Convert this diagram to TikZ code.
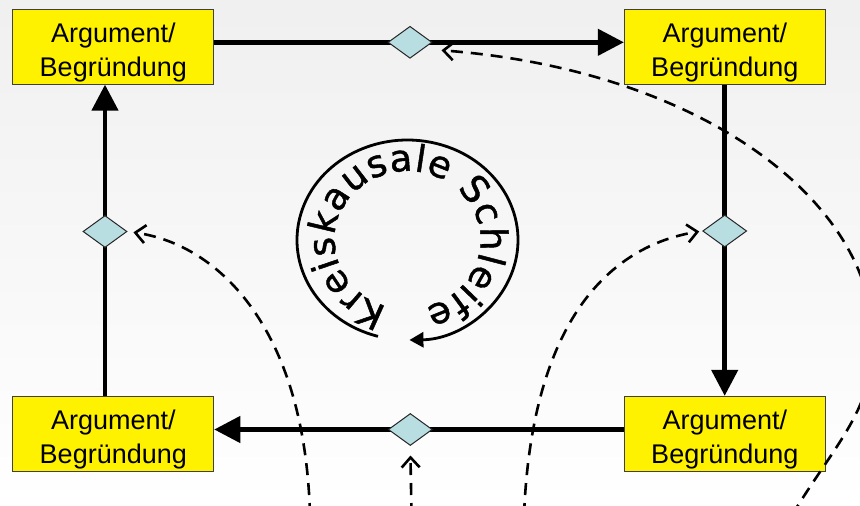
\documentclass[tikz,border=0pt]{standalone}
\usepackage{fontspec}
\setmainfont{Liberation Sans}
\newfontfamily\loopfont{DejaVu Sans}[BoldFont={DejaVu Sans}, BoldFeatures={FakeBold=1.2}]
\usetikzlibrary{arrows.meta,shapes.geometric,decorations.text}

\definecolor{junctioncyan}{RGB}{185,222,226}
\definecolor{boxedge}{RGB}{64,64,64}

\pgfdeclarelayer{backdrop}
\pgfdeclarelayer{wires}
\pgfsetlayers{backdrop,wires,main}

% taller first line pushes the two text lines a little lower in the box
\newcommand{\boxtext}{\rule{0pt}{31pt}Argument/\\Begründung}

\begin{document}
\begin{tikzpicture}[x=1pt,y=-1pt,
  argbox/.style={draw=boxedge, line width=0.9pt, fill=yellow,
    minimum width=201pt, minimum height=75pt, inner sep=0pt,
    align=center, font=\fontsize{27}{34}\selectfont},
  junction/.style={diamond, draw=black!85, line width=1pt, fill=junctioncyan,
    minimum width=44pt, minimum height=32pt, inner sep=0pt},
  flow/.style={line width=4.5pt, -{Triangle[length=26pt,width=26pt]}},
  flowplain/.style={line width=4.5pt},
  influence/.style={line width=2.6pt, dash pattern=on 12pt off 8pt,
    -{Straight Barb[length=10pt,width=18pt]}},
]
\useasboundingbox (0,0) rectangle (860,506);

% soft grey backdrop
\begin{pgfonlayer}{backdrop}
  \shade[top color=black!6, middle color=black!10, bottom color=white]
    (0,0) rectangle (860,506);
\end{pgfonlayer}

% the four argument boxes
\node[argbox] (tl) at (113.3,46.7)  {\boxtext};
\node[argbox] (tr) at (724.8,46.5)  {\boxtext};
\node[argbox] (bl) at (113.3,433.8) {\boxtext};
\node[argbox] (br) at (724.8,433.8) {\boxtext};

% junctions on the loop
\node[junction] (dt) at (410,42.3)  {};
\node[junction] (dr) at (724.7,231) {};
\node[junction] (db) at (410.3,429.5) {};
\node[junction] (dl) at (105,231.5) {};

% the causal loop
\begin{pgfonlayer}{wires}
  \draw[flowplain] (tl.east |- dt.center) -- (dt.center);
  \draw[flow] (dt.center) -- (tr.west |- dt.center);
  \draw[flowplain] (tr.south -| dr.center) -- (dr.center);
  \draw[flow] (dr.center) -- (br.north -| dr.center);
  \draw[flowplain] (br.west |- db.center) -- (db.center);
  \draw[flow] (db.center) -- (bl.east |- db.center);
  \draw[flowplain] (bl.north -| dl.center) -- (dl.center);
  \draw[flow] (dl.center) -- (tl.south -| dl.center);
\end{pgfonlayer}

% outside influences entering the junctions
\coordinate (s1) at (310,515);
\coordinate (s2) at (411.5,515);
\coordinate (s3) at (524,515);
\coordinate (s4) at (792,515);
\begin{scope}
  \clip (0,0) rectangle (860,506);
  \draw[influence, shorten >=6pt] (s1) .. controls (305,330) and (220,245) .. (dl.east);
  \draw[influence, shorten >=9.5pt] (s2) -- (db.south);
  \draw[influence, shorten >=3pt] (s3) .. controls (532,320) and (610,246) .. (dr.west);
  \draw[influence] (s4) .. controls (838,440) and (873,410) .. (873,340)
    .. controls (873,200) and (700,70) .. ([xshift=9pt,yshift=-8pt]dt.east);
\end{scope}

% circular label in the middle
\coordinate (loopc) at (407.5,240);
\draw[line width=2.8pt, -{Triangle[length=14pt,width=15pt]}]
  ([shift={(105.5:110.5 and 100)}]loopc)
  arc[start angle=105.5, end angle=449, x radius=110.5, y radius=100];
{\loopfont\bfseries\fontsize{37}{37}\selectfont
\path[decorate, decoration={text along path,
    text={Kreiskausale Schleife},
    text align={fit to path}}]
  ([shift={(106:73 and 69)}]loopc)
  arc[start angle=106, end angle=436, x radius=73, y radius=69];
}
\end{tikzpicture}
\end{document}
